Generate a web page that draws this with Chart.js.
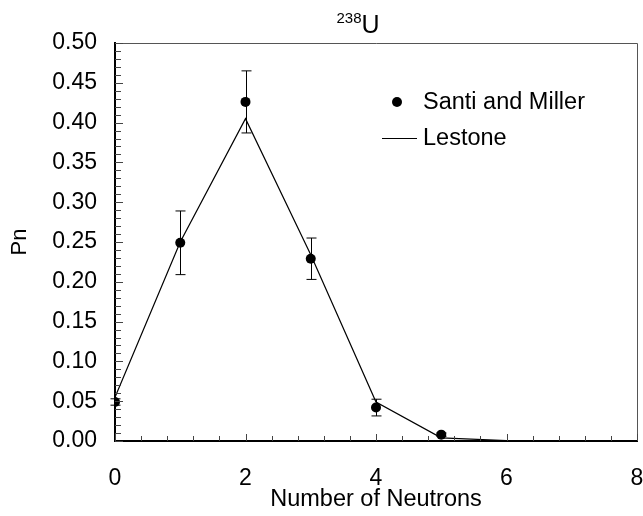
<!DOCTYPE html>
<html>
<head>
<meta charset="utf-8">
<script src="https://cdn.jsdelivr.net/npm/chart.js@4"></script>
<style>
  html, body { margin: 0; padding: 0; background: #fff; }
</style>
</head>
<body>
<canvas id="chart" width="643" height="516"></canvas>
<script>
// Данные: распределение числа нейтронов для 238U
const neutrons = [0, 1, 2, 3, 4, 5];
const santiMiller = [0.049, 0.249, 0.426, 0.229, 0.042, 0.008];
const santiMillerErr = [0.004, 0.040, 0.039, 0.026, 0.0105, 0.002];

const lestoneX = [0, 1, 2, 3, 4, 5, 6, 7, 8];
const lestone = [0.055, 0.25, 0.405, 0.234, 0.049, 0.004, 0.0005, 0, 0];

const xTicks = [0, 2, 4, 6, 8];
const yTicks = [0, 0.05, 0.1, 0.15, 0.2, 0.25, 0.3, 0.35, 0.4, 0.45, 0.5];

const FONT = "'Liberation Sans', Arial, sans-serif";

// Планки погрешностей, засечки внутрь, рамка, заголовок и легенда
const decorPlugin = {
  id: "decor",
  beforeDatasetsDraw(chart) {
    const { ctx, scales: { x, y } } = chart;
    ctx.save();
    ctx.strokeStyle = "#000";
    ctx.lineWidth = 1;
    neutrons.forEach((n, i) => {
      const px = Math.round(x.getPixelForValue(n)) + 0.5;
      const top = y.getPixelForValue(santiMiller[i] + santiMillerErr[i]);
      const bot = y.getPixelForValue(santiMiller[i] - santiMillerErr[i]);
      ctx.beginPath();
      ctx.moveTo(px, top); ctx.lineTo(px, bot);
      ctx.moveTo(px - 5, top); ctx.lineTo(px + 5, top);
      ctx.moveTo(px - 5, bot); ctx.lineTo(px + 5, bot);
      ctx.stroke();
    });
    ctx.restore();
  },
  afterDraw(chart) {
    const { ctx, chartArea: a, scales: { x, y } } = chart;
    ctx.save();

    // рамка сверху и справа
    ctx.strokeStyle = "#555";
    ctx.lineWidth = 1;
    ctx.beginPath();
    ctx.moveTo(a.left, a.top + 0.5); ctx.lineTo(a.right + 0.5, a.top + 0.5);
    ctx.lineTo(a.right + 0.5, a.bottom);
    ctx.stroke();

    // засечки
    ctx.strokeStyle = "#444";
    ctx.beginPath();
    for (let i = 0; i <= 20; i++) {
      const px = Math.round(x.getPixelForValue(i * 0.4)) + 0.5;
      const len = i % 5 === 0 ? 7 : 5;
      ctx.moveTo(px, a.bottom); ctx.lineTo(px, a.bottom - len);
    }
    for (let i = 0; i <= 50; i++) {
      const py = Math.round(y.getPixelForValue(i / 100)) + 0.5;
      const len = i % 5 === 0 ? 8 : 6;
      ctx.moveTo(a.left, py); ctx.lineTo(a.left + len, py);
    }
    ctx.stroke();

    // заголовок 238U
    ctx.fillStyle = "#000";
    ctx.textBaseline = "alphabetic";
    ctx.font = "15px " + FONT;
    const supW = ctx.measureText("238").width;
    ctx.font = "25px " + FONT;
    const uW = ctx.measureText("U").width;
    const tx = 358 - (supW + uW) / 2;
    ctx.font = "15px " + FONT;
    ctx.fillText("238", tx, 23);
    ctx.font = "25px " + FONT;
    ctx.fillText("U", tx + supW, 33);

    // легенда
    const lx = a.left + 282;
    ctx.font = "23.5px " + FONT;
    ctx.textBaseline = "middle";
    ctx.beginPath();
    ctx.arc(lx, 102, 5, 0, Math.PI * 2);
    ctx.fill();
    ctx.fillText("Santi and Miller", lx + 26, 103);
    ctx.strokeStyle = "#000";
    ctx.lineWidth = 1.2;
    ctx.beginPath();
    ctx.moveTo(lx - 15, 138.5); ctx.lineTo(lx + 20, 138.5);
    ctx.stroke();
    ctx.fillText("Lestone", lx + 26, 139);

    ctx.restore();
  },
};

new Chart(document.getElementById("chart"), {
  type: "scatter",
  data: {
    datasets: [
      {
        label: "Santi and Miller",
        data: neutrons.map((n, i) => ({ x: n, y: santiMiller[i] })),
        pointRadius: 5,
        pointHoverRadius: 5,
        pointBackgroundColor: "#000",
        pointBorderWidth: 0,
        showLine: false,
        order: 1,
      },
      {
        label: "Lestone",
        data: lestoneX.map((n, i) => ({ x: n, y: lestone[i] })),
        showLine: true,
        borderColor: "#000",
        borderWidth: 1.2,
        pointRadius: 0,
        tension: 0,
        order: 2,
      },
    ],
  },
  options: {
    responsive: false,
    animation: false,
    events: [],
    layout: { padding: { top: 43, right: 6, bottom: 0, left: 0 } },
    plugins: {
      legend: { display: false },
      tooltip: { enabled: false },
    },
    scales: {
      x: {
        type: "linear",
        min: 0,
        max: 8,
        afterFit(scale) {
          scale.height = 75;
          scale.paddingLeft = 0;
          scale.paddingRight = 0;
        },
        afterBuildTicks(scale) { scale.ticks = xTicks.map((v) => ({ value: v })); },
        grid: { display: false, drawTicks: false },
        border: { display: true, color: "#000", width: 2 },
        ticks: {
          padding: 24,
          color: "#000",
          font: { family: FONT, size: 23 },
          callback: (v) => String(v),
        },
        title: {
          display: true,
          text: "Number of Neutrons",
          color: "#000",
          font: { family: FONT, size: 23.5 },
          padding: { top: 0, bottom: 2 },
        },
      },
      y: {
        min: 0,
        max: 0.5,
        afterFit(scale) { scale.width = 115; },
        afterBuildTicks(scale) { scale.ticks = yTicks.map((v) => ({ value: v })); },
        grid: { display: false, drawTicks: false },
        border: { display: true, color: "#000", width: 2 },
        ticks: {
          padding: 18,
          color: "#000",
          font: { family: FONT, size: 23 },
          callback: (v) => v.toFixed(2),
        },
        title: {
          display: true,
          text: "Pn",
          color: "#000",
          font: { family: FONT, size: 22 },
          padding: { top: 7, bottom: 10 },
        },
      },
    },
  },
  plugins: [decorPlugin],
});
</script>
</body>
</html>
